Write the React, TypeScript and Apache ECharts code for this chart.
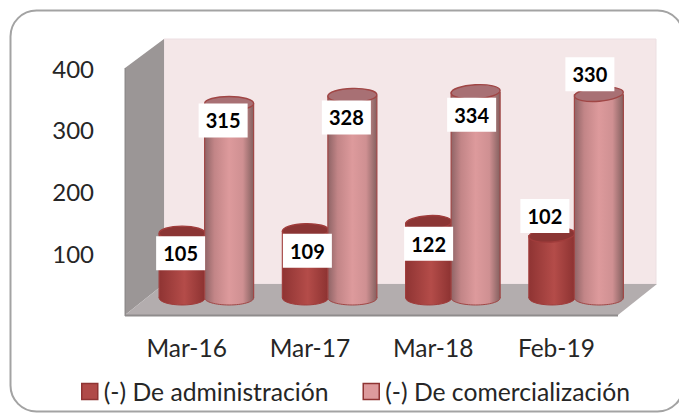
import React, { useEffect, useRef } from "react";
import * as echarts from "echarts";

const categories = ["Mar-16", "Mar-17", "Mar-18", "Feb-19"];
const adminName = "(-) De administración";
const comerName = "(-) De comercialización";
const adminValues = [105, 109, 122, 102];
const comerValues = [315, 328, 334, 330];
const valueTicks = [0, 100, 200, 300, 400];

const FONT = "Lato, Carlito, 'Open Sans', sans-serif";
const DEPTH_X = 19;
const DEPTH_Y = -17;
const RY = 7;

const redFill = new echarts.graphic.LinearGradient(0, 0, 1, 0, [
  { offset: 0, color: "#8f3433" },
  { offset: 0.55, color: "#b44c49" },
  { offset: 1, color: "#8c3231" },
]);
const pinkFill = new echarts.graphic.LinearGradient(0, 0, 1, 0, [
  { offset: 0, color: "#8f6466" },
  { offset: 0.2, color: "#c28587" },
  { offset: 0.5, color: "#dd9a9c" },
  { offset: 0.78, color: "#cf9092" },
  { offset: 1, color: "#84605f" },
]);

const cylinder = (
  shiftX: number,
  width: number,
  fill: any,
  cap: string,
  edge: string,
) => (_params: any, api: any) => {
  const idx = api.value(0);
  const top = api.coord([idx, api.value(1)]);
  const base = api.coord([idx, 0]);
  const cx = top[0] + DEPTH_X + shiftX;
  const ty = top[1] + DEPTH_Y;
  const by = base[1] + DEPTH_Y;
  const rx = width / 2;
  const tilt = idx * 0.028;
  return {
    type: "group",
    children: [
      { type: "ellipse", shape: { cx, cy: by, rx, ry: RY }, style: { fill, stroke: edge, lineWidth: 1 } },
      { type: "rect", shape: { x: cx - rx, y: ty, width, height: by - ty }, style: { fill } },
      { type: "line", shape: { x1: cx - rx, y1: ty, x2: cx - rx, y2: by }, style: { stroke: edge, lineWidth: 1.2 } },
      { type: "line", shape: { x1: cx + rx, y1: ty, x2: cx + rx, y2: by }, style: { stroke: edge, lineWidth: 1.2 } },
      {
        type: "ellipse",
        shape: { cx: 0, cy: 0, rx, ry: RY },
        x: cx,
        y: ty,
        rotation: tilt,
        style: { fill: cap, stroke: edge, lineWidth: 1.4 },
      },
    ],
  };
};

const labelShift: Record<string, number[][]> = {
  admin: [[-1.5, 20], [2, 20], [0, 21], [-7, -19]],
  comer: [[-6, 17], [-6, 22], [-4, 23], [-9, -20]],
};

const labelSeries = (values: number[], key: string, shiftX: number) => ({
  type: "custom",
  name: key,
  silent: true,
  z: 10,
  data: values.map((v, i) => [i, v]),
  encode: { x: 0, y: 1 },
  renderItem: (_p: any, api: any) => {
    const idx = api.value(0);
    const p = api.coord([idx, api.value(1)]);
    const [ox, oy] = labelShift[key][idx];
    const cx = p[0] + DEPTH_X + shiftX + ox;
    const cy = p[1] + DEPTH_Y + oy;
    return {
      type: "group",
      children: [
        { type: "rect", shape: { x: cx - 24.5, y: cy - 17, width: 49, height: 34 }, style: { fill: "#ffffff" } },
        {
          type: "text",
          style: {
            x: cx,
            y: cy,
            text: String(api.value(1)),
            fill: "#000000",
            font: `bold 20px ${FONT}`,
            align: "center",
            verticalAlign: "middle",
          },
        },
      ],
    };
  },
});

export default function App() {
  const ref = useRef<HTMLDivElement>(null);
  useEffect(() => {
    const chart = echarts.init(ref.current!, undefined, { renderer: "svg" });
    chart.setOption({
      animation: false,
      backgroundColor: "#ffffff",
      grid: { left: 125, right: 61, top: 68, bottom: 98 },
      xAxis: {
        type: "category",
        data: categories,
        axisLine: { show: false },
        axisTick: { show: false },
        axisLabel: { color: "#262626", fontFamily: FONT, fontSize: 24.5, margin: 20 },
      },
      yAxis: {
        type: "value",
        min: valueTicks[0],
        max: valueTicks[valueTicks.length - 1],
        interval: 100,
        axisLine: { show: false },
        axisTick: { show: false },
        splitLine: { show: false },
        axisLabel: {
          color: "#262626",
          fontFamily: FONT,
          fontSize: 24,
          margin: 31,
          formatter: (v: number) => (v === 0 ? "" : String(v)),
        },
      },
      legend: {
        left: 76,
        top: 374,
        itemWidth: 16,
        itemHeight: 16,
        itemGap: 34,
        textStyle: { color: "#262626", fontFamily: FONT, fontSize: 24.7, padding: [0, 0, 0, 1] },
        data: [
          { name: adminName, icon: "rect", itemStyle: { color: "#b04a48", borderColor: "#8f3433", borderWidth: 1.5 } },
          { name: comerName, icon: "rect", itemStyle: { color: "#dd9a9c", borderColor: "#8f3433", borderWidth: 1.5 } },
        ],
      },
      graphic: [
        {
          type: "rect",
          shape: { x: 10.5, y: 10.5, width: 673, height: 401, r: 26 },
          style: { fill: "#ffffff", stroke: "#a3a3a3", lineWidth: 2 },
          z: -10,
        },
        {
          type: "rect",
          shape: { x: 164, y: 39, width: 492, height: 245 },
          style: { fill: "#f4e7e8", stroke: "#ecdfe2", lineWidth: 1 },
          z: -5,
        },
        {
          type: "polygon",
          shape: { points: [[125, 68], [164, 39], [164, 284], [125, 315]] },
          style: { fill: "#9b9696" },
          z: -5,
        },
        {
          type: "polygon",
          shape: { points: [[125, 315], [164, 284], [657, 284], [618, 315]] },
          style: { fill: "#b3adae" },
          z: -5,
        },
        {
          type: "rect",
          shape: { x: 125, y: 314.5, width: 493, height: 2 },
          style: { fill: "#8f8c8c" },
          z: -4,
        },
        {
          type: "rect",
          shape: { x: 124.5, y: 68, width: 1.5, height: 248 },
          style: { fill: "#8f8c8c" },
          z: -4,
        },
      ],
      series: [
        {
          type: "custom",
          name: adminName,
          z: 3,
          itemStyle: { color: "#b04a48" },
          data: adminValues.map((v, i) => [i, v]),
          encode: { x: 0, y: 1 },
          renderItem: cylinder(-23.5, 46, redFill, "#8b3534", "#a03c3b"),
        },
        {
          type: "custom",
          name: comerName,
          z: 4,
          itemStyle: { color: "#dd9a9c" },
          data: comerValues.map((v, i) => [i, v]),
          encode: { x: 0, y: 1 },
          renderItem: cylinder(23.5, 49, pinkFill, "#a87074", "#a04645"),
        },
        labelSeries(adminValues, "admin", -23.5),
        labelSeries(comerValues, "comer", 23.5),
      ],
    });
    return () => chart.dispose();
  }, []);
  return <div ref={ref} style={{ position: "fixed", left: 0, top: 0, width: 679, height: 413 }} />;
}
